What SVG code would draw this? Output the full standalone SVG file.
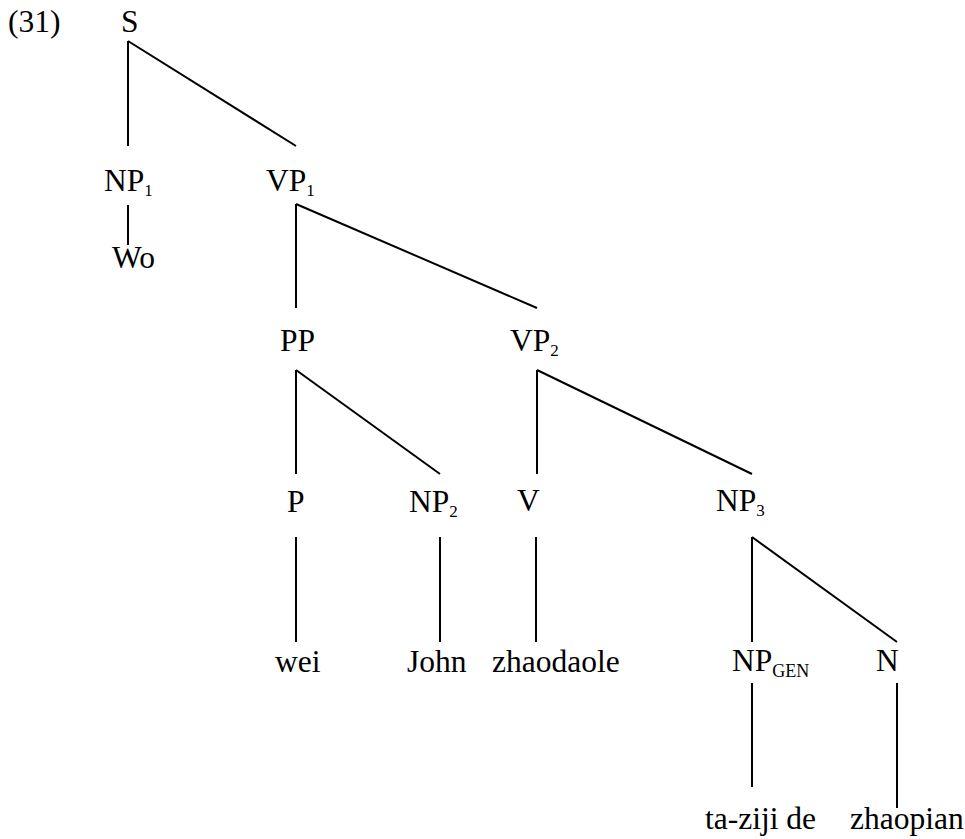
<svg xmlns="http://www.w3.org/2000/svg" width="965" height="839" viewBox="0 0 965 839">
<style>
text{font-family:'Liberation Serif','Times New Roman',serif;font-size:31.5px;fill:#000}
.sub{font-size:17px}
.gen{font-size:18px}
#edges line{stroke:#000;stroke-width:2;stroke-linecap:butt}
</style>
<rect width="965" height="839" fill="#fff"/>
<text x="8" y="32" font-family="Liberation Serif, serif">(31)</text>
<g id="edges">
<line x1="128" y1="41" x2="128" y2="146"/>
<line x1="128" y1="41" x2="296" y2="146"/>
<line x1="128" y1="205" x2="128" y2="245"/>
<line x1="296" y1="204" x2="296" y2="308"/>
<line x1="296" y1="204" x2="537" y2="308"/>
<line x1="296" y1="370" x2="296" y2="474"/>
<line x1="296" y1="370" x2="440" y2="474"/>
<line x1="537" y1="370" x2="537" y2="474"/>
<line x1="537" y1="370" x2="752" y2="474"/>
<line x1="296" y1="537" x2="296" y2="642"/>
<line x1="440" y1="537" x2="440" y2="642"/>
<line x1="536" y1="537" x2="536" y2="642"/>
<line x1="752" y1="537" x2="752" y2="642"/>
<line x1="752" y1="537" x2="897" y2="642"/>
<line x1="752" y1="683" x2="752" y2="787"/>
<line x1="897" y1="683" x2="897" y2="808"/>
</g>
<g id="S"><text x="121" y="32">S</text></g>
<g id="NP1"><text x="104" y="191">NP<tspan class="sub" dy="5">1</tspan></text></g>
<g id="VP1"><text x="266" y="191">VP<tspan class="sub" dy="5">1</tspan></text></g>
<g id="Wo"><text x="112" y="268">Wo</text></g>
<g id="PP"><text x="280" y="351">PP</text></g>
<g id="VP2"><text x="510" y="351">VP<tspan class="sub" dy="5">2</tspan></text></g>
<g id="P"><text x="287" y="512">P</text></g>
<g id="NP2"><text x="409" y="512">NP<tspan class="sub" dy="5">2</tspan></text></g>
<g id="V"><text x="517" y="511">V</text></g>
<g id="NP3"><text x="716" y="511">NP<tspan class="sub" dy="5">3</tspan></text></g>
<g id="wei"><text x="275" y="672">wei</text></g>
<g id="John"><text x="407" y="672">John</text></g>
<g id="zhaodaole"><text x="492" y="672">zhaodaole</text></g>
<g id="NPGEN"><text x="732" y="671">NP<tspan class="gen" dy="6">GEN</tspan></text></g>
<g id="N"><text x="876" y="671">N</text></g>
<g id="taziji"><text x="705" y="829">ta-ziji de</text></g>
<g id="zhaopian"><text x="850" y="829">zhaopian</text></g>
</svg>
